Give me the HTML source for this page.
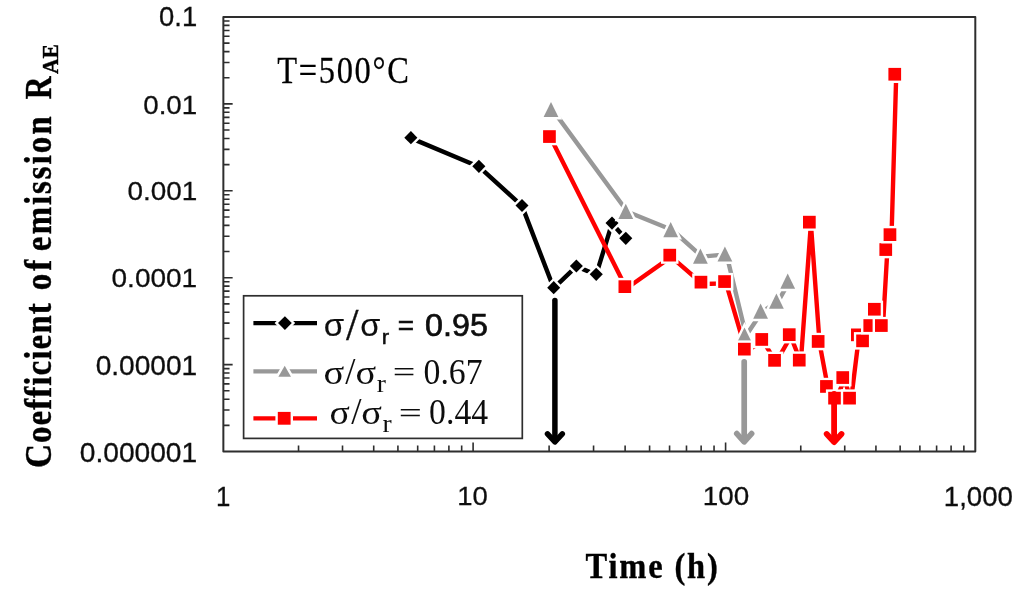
<!DOCTYPE html>
<html lang="en"><head><meta charset="utf-8"><title>Coefficient of emission vs time</title>
<style>
html,body{margin:0;padding:0;background:#fff;}
body{width:1024px;height:607px;overflow:hidden;}
svg{display:block;}
.sans{font-family:"Liberation Sans",sans-serif;}
.serif{font-family:"Liberation Serif",serif;}
</style></head><body>
<svg width="1024" height="607" viewBox="0 0 1024 607">
<defs><filter id="soft" x="-2%" y="-2%" width="104%" height="104%"><feGaussianBlur stdDeviation="0.55"/></filter></defs>
<rect x="0" y="0" width="1024" height="607" fill="#ffffff"/>
<g filter="url(#soft)">
<rect x="223.35" y="17.0" width="751.95" height="434.50" fill="none" stroke="#2e2e2e" stroke-width="2.0" stroke-linejoin="round"/>
<path d="M298.53 451.5 V445.50 M342.51 451.5 V445.50 M373.71 451.5 V445.50 M397.92 451.5 V445.50 M417.69 451.5 V445.50 M434.41 451.5 V445.50 M448.90 451.5 V445.50 M461.67 451.5 V445.50 M473.10 451.5 V442.50 M549.11 451.5 V445.50 M593.57 451.5 V445.50 M625.12 451.5 V445.50 M649.59 451.5 V445.50 M669.58 451.5 V445.50 M686.49 451.5 V445.50 M701.13 451.5 V445.50 M714.05 451.5 V445.50 M725.60 451.5 V442.50 M800.77 451.5 V445.50 M844.74 451.5 V445.50 M875.93 451.5 V445.50 M900.13 451.5 V445.50 M919.90 451.5 V445.50 M936.62 451.5 V445.50 M951.10 451.5 V445.50 M963.87 451.5 V445.50 M223.35 425.34 H229.55 M223.35 410.04 H229.55 M223.35 399.18 H229.55 M223.35 390.76 H229.55 M223.35 383.88 H229.55 M223.35 378.06 H229.55 M223.35 373.02 H229.55 M223.35 368.58 H229.55 M223.35 364.60 H232.65 M223.35 338.44 H229.55 M223.35 323.14 H229.55 M223.35 312.28 H229.55 M223.35 303.86 H229.55 M223.35 296.98 H229.55 M223.35 291.16 H229.55 M223.35 286.12 H229.55 M223.35 281.68 H229.55 M223.35 277.70 H232.65 M223.35 251.54 H229.55 M223.35 236.24 H229.55 M223.35 225.38 H229.55 M223.35 216.96 H229.55 M223.35 210.08 H229.55 M223.35 204.26 H229.55 M223.35 199.22 H229.55 M223.35 194.78 H229.55 M223.35 190.80 H232.65 M223.35 164.64 H229.55 M223.35 149.34 H229.55 M223.35 138.48 H229.55 M223.35 130.06 H229.55 M223.35 123.18 H229.55 M223.35 117.36 H229.55 M223.35 112.32 H229.55 M223.35 107.88 H229.55 M223.35 103.90 H232.65 M223.35 77.74 H229.55 M223.35 62.44 H229.55 M223.35 51.58 H229.55 M223.35 43.16 H229.55 M223.35 36.28 H229.55 M223.35 30.46 H229.55 M223.35 25.42 H229.55 M223.35 20.98 H229.55" fill="none" stroke="#2e2e2e" stroke-width="1.6"/>
<path d="M410.9 138.1 L478.9 166.7 L522.0 205.9 L553.7 288.1 L576.4 266.4 L596.2 274.7 L612.0 223.5 L625.8 238.7" fill="none" stroke="#000000" stroke-width="4.4" stroke-linejoin="round" stroke-linecap="butt"/>
<path d="M552.6 109.9 L627.4 211.7 L672.3 230.0 L702.0 256.6 L726.5 254.4 L746.1 335.4 L762.2 311.6 L778.0 301.6 L789.3 281.6" fill="none" stroke="#989898" stroke-width="4.4" stroke-linejoin="round" stroke-linecap="butt"/>
<path d="M551.0 138.4 L626.4 288.5 L671.2 256.9 L702.5 284.0 L726.1 283.4 L745.9 351.0 L763.2 341.3 L776.1 362.2 L790.8 336.5 L800.8 362.0 L810.9 223.9 L819.6 343.3 L828.0 388.3 L836.1 399.9 L844.3 379.4 L851.1 399.9 L858.9 336.7 L864.1 342.7 L871.2 327.4 L875.9 311.1 L882.9 327.4 L887.3 251.3 L891.5 236.5 L896.2 76.0" fill="none" stroke="#ff0000" stroke-width="4.4" stroke-linejoin="round" stroke-linecap="butt"/>
<path d="M410.9 131.1 L417.4 137.7 L410.9 144.2 L404.3 137.7 Z" fill="#fff" stroke="#fff" stroke-width="4.8" stroke-linejoin="miter"/><path d="M410.9 131.1 L417.4 137.7 L410.9 144.2 L404.3 137.7 Z" fill="#000000"/>
<path d="M478.9 159.8 L485.4 166.3 L478.9 172.9 L472.3 166.3 Z" fill="#fff" stroke="#fff" stroke-width="4.8" stroke-linejoin="miter"/><path d="M478.9 159.8 L485.4 166.3 L478.9 172.9 L472.3 166.3 Z" fill="#000000"/>
<path d="M522.0 198.9 L528.5 205.5 L522.0 212.1 L515.5 205.5 Z" fill="#fff" stroke="#fff" stroke-width="4.8" stroke-linejoin="miter"/><path d="M522.0 198.9 L528.5 205.5 L522.0 212.1 L515.5 205.5 Z" fill="#000000"/>
<path d="M553.7 281.1 L560.2 287.7 L553.7 294.2 L547.2 287.7 Z" fill="#fff" stroke="#fff" stroke-width="4.8" stroke-linejoin="miter"/><path d="M553.7 281.1 L560.2 287.7 L553.7 294.2 L547.2 287.7 Z" fill="#000000"/>
<path d="M576.4 259.4 L582.9 266.0 L576.4 272.6 L569.9 266.0 Z" fill="#fff" stroke="#fff" stroke-width="4.8" stroke-linejoin="miter"/><path d="M576.4 259.4 L582.9 266.0 L576.4 272.6 L569.9 266.0 Z" fill="#000000"/>
<path d="M596.2 267.8 L602.8 274.3 L596.2 280.9 L589.7 274.3 Z" fill="#fff" stroke="#fff" stroke-width="4.8" stroke-linejoin="miter"/><path d="M596.2 267.8 L602.8 274.3 L596.2 280.9 L589.7 274.3 Z" fill="#000000"/>
<path d="M612.0 216.5 L618.5 223.1 L612.0 229.7 L605.5 223.1 Z" fill="#fff" stroke="#fff" stroke-width="4.8" stroke-linejoin="miter"/><path d="M612.0 216.5 L618.5 223.1 L612.0 229.7 L605.5 223.1 Z" fill="#000000"/>
<path d="M625.8 231.8 L632.3 238.3 L625.8 244.9 L619.2 238.3 Z" fill="#fff" stroke="#fff" stroke-width="4.8" stroke-linejoin="miter"/><path d="M625.8 231.8 L632.3 238.3 L625.8 244.9 L619.2 238.3 Z" fill="#000000"/>
<path d="M551.0 101.9 L558.4 117.1 L543.6 117.1 Z" fill="#fff" stroke="#fff" stroke-width="4.8" stroke-linejoin="miter"/><path d="M551.0 101.9 L558.4 117.1 L543.6 117.1 Z" fill="#989898"/>
<path d="M625.8 203.7 L633.2 218.9 L618.4 218.9 Z" fill="#fff" stroke="#fff" stroke-width="4.8" stroke-linejoin="miter"/><path d="M625.8 203.7 L633.2 218.9 L618.4 218.9 Z" fill="#989898"/>
<path d="M670.7 222.0 L678.1 237.2 L663.3 237.2 Z" fill="#fff" stroke="#fff" stroke-width="4.8" stroke-linejoin="miter"/><path d="M670.7 222.0 L678.1 237.2 L663.3 237.2 Z" fill="#989898"/>
<path d="M700.4 248.6 L707.8 263.8 L693.0 263.8 Z" fill="#fff" stroke="#fff" stroke-width="4.8" stroke-linejoin="miter"/><path d="M700.4 248.6 L707.8 263.8 L693.0 263.8 Z" fill="#989898"/>
<path d="M724.9 246.4 L732.3 261.6 L717.5 261.6 Z" fill="#fff" stroke="#fff" stroke-width="4.8" stroke-linejoin="miter"/><path d="M724.9 246.4 L732.3 261.6 L717.5 261.6 Z" fill="#989898"/>
<path d="M744.5 327.4 L751.9 342.6 L737.1 342.6 Z" fill="#fff" stroke="#fff" stroke-width="4.8" stroke-linejoin="miter"/><path d="M744.5 327.4 L751.9 342.6 L737.1 342.6 Z" fill="#989898"/>
<path d="M760.6 303.6 L768.0 318.8 L753.2 318.8 Z" fill="#fff" stroke="#fff" stroke-width="4.8" stroke-linejoin="miter"/><path d="M760.6 303.6 L768.0 318.8 L753.2 318.8 Z" fill="#989898"/>
<path d="M776.4 293.6 L783.8 308.8 L769.0 308.8 Z" fill="#fff" stroke="#fff" stroke-width="4.8" stroke-linejoin="miter"/><path d="M776.4 293.6 L783.8 308.8 L769.0 308.8 Z" fill="#989898"/>
<path d="M787.7 273.6 L795.1 288.8 L780.3 288.8 Z" fill="#fff" stroke="#fff" stroke-width="4.8" stroke-linejoin="miter"/><path d="M787.7 273.6 L795.1 288.8 L780.3 288.8 Z" fill="#989898"/>
<rect x="540.8" y="127.8" width="17.5" height="17.5" fill="#fff"/><rect x="543.1" y="130.2" width="12.7" height="12.7" fill="#ff0000"/>
<rect x="616.1" y="277.9" width="17.5" height="17.5" fill="#fff"/><rect x="618.5" y="280.3" width="12.7" height="12.7" fill="#ff0000"/>
<rect x="661.0" y="246.3" width="17.5" height="17.5" fill="#fff"/><rect x="663.4" y="248.8" width="12.7" height="12.7" fill="#ff0000"/>
<rect x="692.2" y="273.4" width="17.5" height="17.5" fill="#fff"/><rect x="694.6" y="275.8" width="12.7" height="12.7" fill="#ff0000"/>
<rect x="715.9" y="272.9" width="17.5" height="17.5" fill="#fff"/><rect x="718.2" y="275.2" width="12.7" height="12.7" fill="#ff0000"/>
<rect x="735.6" y="340.4" width="17.5" height="17.5" fill="#fff"/><rect x="738.0" y="342.8" width="12.7" height="12.7" fill="#ff0000"/>
<rect x="753.0" y="330.8" width="17.5" height="17.5" fill="#fff"/><rect x="755.4" y="333.1" width="12.7" height="12.7" fill="#ff0000"/>
<rect x="765.9" y="351.6" width="17.5" height="17.5" fill="#fff"/><rect x="768.2" y="354.0" width="12.7" height="12.7" fill="#ff0000"/>
<rect x="780.5" y="325.9" width="17.5" height="17.5" fill="#fff"/><rect x="782.9" y="328.3" width="12.7" height="12.7" fill="#ff0000"/>
<rect x="790.5" y="351.4" width="17.5" height="17.5" fill="#fff"/><rect x="792.9" y="353.8" width="12.7" height="12.7" fill="#ff0000"/>
<rect x="800.6" y="213.3" width="17.5" height="17.5" fill="#fff"/><rect x="803.0" y="215.8" width="12.7" height="12.7" fill="#ff0000"/>
<rect x="809.4" y="332.8" width="17.5" height="17.5" fill="#fff"/><rect x="811.8" y="335.1" width="12.7" height="12.7" fill="#ff0000"/>
<rect x="817.8" y="377.8" width="17.5" height="17.5" fill="#fff"/><rect x="820.1" y="380.1" width="12.7" height="12.7" fill="#ff0000"/>
<rect x="825.9" y="389.4" width="17.5" height="17.5" fill="#fff"/><rect x="828.2" y="391.8" width="12.7" height="12.7" fill="#ff0000"/>
<rect x="834.0" y="368.9" width="17.5" height="17.5" fill="#fff"/><rect x="836.4" y="371.2" width="12.7" height="12.7" fill="#ff0000"/>
<rect x="840.9" y="389.4" width="17.5" height="17.5" fill="#fff"/><rect x="843.2" y="391.8" width="12.7" height="12.7" fill="#ff0000"/>
<rect x="848.6" y="326.1" width="17.5" height="17.5" fill="#fff"/><rect x="851.0" y="328.5" width="12.7" height="12.7" fill="#ff0000"/>
<rect x="853.9" y="332.1" width="17.5" height="17.5" fill="#fff"/><rect x="856.2" y="334.5" width="12.7" height="12.7" fill="#ff0000"/>
<rect x="861.0" y="316.9" width="17.5" height="17.5" fill="#fff"/><rect x="863.4" y="319.2" width="12.7" height="12.7" fill="#ff0000"/>
<rect x="865.6" y="300.6" width="17.5" height="17.5" fill="#fff"/><rect x="868.0" y="302.9" width="12.7" height="12.7" fill="#ff0000"/>
<rect x="872.6" y="316.9" width="17.5" height="17.5" fill="#fff"/><rect x="875.0" y="319.2" width="12.7" height="12.7" fill="#ff0000"/>
<rect x="877.0" y="240.8" width="17.5" height="17.5" fill="#fff"/><rect x="879.4" y="243.2" width="12.7" height="12.7" fill="#ff0000"/>
<rect x="881.2" y="225.9" width="17.5" height="17.5" fill="#fff"/><rect x="883.6" y="228.3" width="12.7" height="12.7" fill="#ff0000"/>
<rect x="886.0" y="65.5" width="17.5" height="17.5" fill="#fff"/><rect x="888.4" y="67.9" width="12.7" height="12.7" fill="#ff0000"/>
<path d="M554.9 300.5 V440.9" fill="none" stroke="#000000" stroke-width="5.5" stroke-linecap="round"/><path d="M547.5 433.8 L554.9 441.9 L562.3 433.8" fill="none" stroke="#000000" stroke-width="5.5" stroke-linecap="round" stroke-linejoin="round"/>
<path d="M744.2 361.8 V440.8" fill="none" stroke="#989898" stroke-width="5.7" stroke-linecap="round"/><path d="M736.8 433.6 L744.2 441.8 L751.6 433.6" fill="none" stroke="#989898" stroke-width="5.7" stroke-linecap="round" stroke-linejoin="round"/>
<path d="M834.1 393.8 V441.1" fill="none" stroke="#ff0000" stroke-width="5.8" stroke-linecap="round"/><path d="M826.7 434.0 L834.1 442.1 L841.5 434.0" fill="none" stroke="#ff0000" stroke-width="5.8" stroke-linecap="round" stroke-linejoin="round"/>
<rect x="243.6" y="295.8" width="278.7" height="142.6" fill="#fff" stroke="#2e2e2e" stroke-width="1.7"/>
<path d="M253.4 323.1 H317.0" stroke="#000000" stroke-width="4.3" fill="none"/>
<path d="M284.9 316.2 L291.8 323.1 L284.9 330.0 L278.0 323.1 Z" fill="#fff" stroke="#fff" stroke-width="4.8" stroke-linejoin="miter"/><path d="M284.9 316.2 L291.8 323.1 L284.9 330.0 L278.0 323.1 Z" fill="#000000"/>
<path d="M253.4 371.4 H317.0" stroke="#989898" stroke-width="4.3" fill="none"/>
<path d="M284.7 365.7 L291.0 376.7 L278.4 376.7 Z" fill="#fff" stroke="#fff" stroke-width="4.8" stroke-linejoin="miter"/><path d="M284.7 365.7 L291.0 376.7 L278.4 376.7 Z" fill="#989898"/>
<path d="M253.4 418.3 H317.0" stroke="#ff0000" stroke-width="4.3" fill="none"/>
<rect x="275.4" y="409.5" width="17.6" height="17.6" fill="#fff"/><rect x="277.8" y="411.9" width="12.8" height="12.8" fill="#ff0000"/>
</g>
<g fill="#111111" filter="url(#soft)">
<text class="sans" stroke="#111111" stroke-width="0.3" font-size="26.71" transform="translate(159.09 25.98) scale(1.0265 1)">0.1</text>
<text class="sans" stroke="#111111" stroke-width="0.3" font-size="26.71" transform="translate(143.23 113.88) scale(1.0385 1)">0.01</text>
<text class="sans" stroke="#111111" stroke-width="0.3" font-size="26.71" transform="translate(127.38 199.58) scale(1.0450 1)">0.001</text>
<text class="sans" stroke="#111111" stroke-width="0.3" font-size="26.71" transform="translate(111.52 287.38) scale(1.0490 1)">0.0001</text>
<text class="sans" stroke="#111111" stroke-width="0.3" font-size="26.71" transform="translate(95.67 374.98) scale(1.0518 1)">0.00001</text>
<text class="sans" stroke="#111111" stroke-width="0.3" font-size="26.71" transform="translate(79.82 462.48) scale(1.0539 1)">0.000001</text>
<text class="sans" stroke="#111111" stroke-width="0.3" font-size="27.02" transform="translate(216.09 505.80) scale(0.9555 1)">1</text>
<text class="sans" stroke="#111111" stroke-width="0.3" font-size="26.43" transform="translate(457.28 505.39) scale(1.0409 1)">10</text>
<text class="sans" stroke="#111111" stroke-width="0.3" font-size="26.43" transform="translate(702.76 505.39) scale(1.0528 1)">100</text>
<text class="sans" stroke="#111111" stroke-width="0.3" font-size="27.26" transform="translate(943.77 505.97) scale(1.0147 1)">1,000</text>
<text class="sans" stroke="#111111" stroke-width="0.15" font-size="31.54" transform="translate(323.69 336.48) scale(1.0501 1)">σ</text>
<text class="sans" font-style="italic" stroke="#111111" stroke-width="0.55" font-size="39.80" transform="translate(347.66 340.25) scale(0.7380 1)">/</text>
<text class="sans" stroke="#111111" stroke-width="0.15" font-size="31.54" transform="translate(360.21 336.48) scale(1.0337 1)">σ</text>
<text class="sans" stroke="#111111" stroke-width="0.5" font-size="20.11" transform="translate(381.81 343.50) scale(1.1043 1)">r</text>
<text class="sans" stroke="#111111" stroke-width="0.6" font-size="27.64" transform="translate(397.84 335.17) scale(1.0132 1)">=</text>
<text class="sans" stroke="#111111" stroke-width="0.7" font-size="31.58" transform="translate(425.09 336.11) scale(1.0219 1)">0.95</text>
<text class="serif" font-size="32.94" transform="translate(323.44 383.94) scale(1.1718 1)">σ</text>
<text class="serif" font-size="38.11" transform="translate(345.15 384.05) scale(0.9610 1)">/</text>
<text class="serif" font-size="32.94" transform="translate(355.45 383.94) scale(1.1657 1)">σ</text>
<text class="serif" font-size="25.39" transform="translate(376.72 392.25) scale(1.0837 1)">r</text>
<text class="serif" font-size="29.74" transform="translate(392.87 382.39) scale(1.3485 1)">=</text>
<text class="serif" font-size="36.80" transform="translate(423.49 384.18) scale(0.9190 1)">0.67</text>
<text class="serif" font-size="32.94" transform="translate(329.57 424.34) scale(1.1475 1)">σ</text>
<text class="serif" font-size="37.38" transform="translate(351.15 424.27) scale(0.9892 1)">/</text>
<text class="serif" font-size="32.94" transform="translate(361.35 424.34) scale(1.1657 1)">σ</text>
<text class="serif" font-size="24.57" transform="translate(382.52 432.25) scale(1.1202 1)">r</text>
<text class="serif" font-size="30.12" transform="translate(398.63 422.87) scale(1.3600 1)">=</text>
<text class="serif" font-size="35.78" transform="translate(429.09 424.49) scale(0.9435 1)">0.44</text>
<text class="serif" stroke="#000" stroke-width="0.25" font-size="37.10" letter-spacing="1.925" fill="#000" transform="translate(277.29 82.50) scale(0.8750 1)">T=500°C</text>
<text class="serif" font-weight="bold" stroke="#000" stroke-width="0.4" font-size="36.70" letter-spacing="2.065" fill="#000" transform="translate(585.59 578.10) scale(0.8850 1)">Time (h)</text>
<text class="serif" font-weight="bold" stroke="#000" stroke-width="0.4" font-size="37.40" letter-spacing="1.176" fill="#000" transform="translate(50.90 468.05) rotate(-90) scale(0.8850 1)">Coefficient</text>
<text class="serif" font-weight="bold" stroke="#000" stroke-width="0.4" font-size="37.40" letter-spacing="3.511" fill="#000" transform="translate(50.90 290.33) rotate(-90) scale(0.8850 1)">of</text>
<text class="serif" font-weight="bold" stroke="#000" stroke-width="0.4" font-size="37.40" letter-spacing="2.158" fill="#000" transform="translate(50.90 251.13) rotate(-90) scale(0.8850 1)">emission</text>
<text class="serif" font-weight="bold" stroke="#000" stroke-width="0.4" font-size="37.40" fill="#000" transform="translate(50.90 99.20) rotate(-90) scale(0.8482 1)">R</text>
<text class="serif" font-weight="bold" stroke="#000" stroke-width="0.4" font-size="22.90" fill="#000" transform="translate(57.70 74.00) rotate(-90) scale(0.9433 1)">AE</text>
</g>
</svg>
</body></html>
